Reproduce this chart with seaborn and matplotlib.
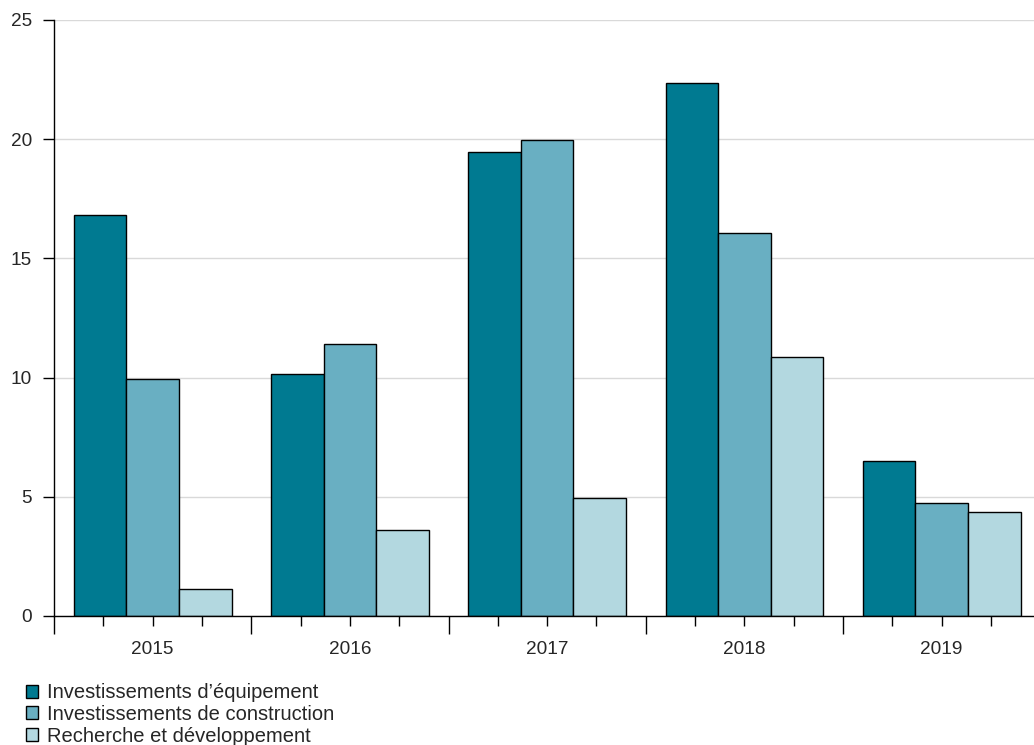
import numpy as np
import pandas as pd
import matplotlib
matplotlib.use("Agg")
import matplotlib.pyplot as plt
import seaborn as sns

# Values per year (billions)
years = ["2015", "2016", "2017", "2018", "2019"]
series = ["Investissements d\u2019équipement",
          "Investissements de construction",
          "Recherche et développement"]
equipement = [16.82, 10.15, 19.48, 22.34, 6.50]
construction = [9.94, 11.41, 19.97, 16.07, 4.76]
recherche = [1.15, 3.61, 4.97, 10.88, 4.36]
colors = ["#007A91", "#69AFC2", "#B3D8E0"]

df = pd.DataFrame({
    "annee": years * 3,
    "serie": [series[0]] * 5 + [series[1]] * 5 + [series[2]] * 5,
    "valeur": equipement + construction + recherche,
})

sns.set_style("white")
plt.rcParams["font.family"] = ["Liberation Sans", "DejaVu Sans"]

fig = plt.figure(figsize=(10.34, 7.45), dpi=100)
ax = fig.add_axes([54 / 1034, 129 / 745, 1 - 54 / 1034, (616 - 20) / 745])

sns.barplot(data=df, x="annee", y="valeur", hue="serie", hue_order=series,
            palette=colors, edgecolor="black", linewidth=1.0, width=0.8,
            saturation=1, ax=ax, legend=True)

ax.set_yticks([0, 5, 10, 15, 20, 25])
ax.yaxis.grid(True, color="#d9d9d9", linewidth=1)
ax.set_axisbelow(True)
ax.set_xlabel("")
ax.set_ylabel("")

for side in ["top", "right"]:
    ax.spines[side].set_visible(False)
for side in ["left", "bottom"]:
    ax.spines[side].set_color("black")
    ax.spines[side].set_linewidth(1)

# Major ticks at group boundaries, minor ticks at quarters with year labels
n = len(years)
major = np.arange(-0.5, n, 1.0)
ax.set_xticks(major)
ax.set_xticklabels([""] * len(major))
minor = []
minor_labels = []
for i, y in enumerate(years):
    for off, lab in [(-0.25, ""), (0.0, y), (0.25, "")]:
        minor.append(i + off)
        minor_labels.append(lab)
ax.set_xticks(minor, minor=True)
ax.set_xticklabels(minor_labels, minor=True)
ax.tick_params(axis="x", which="major", direction="out", length=13, width=1,
               color="black", bottom=True)
ax.tick_params(axis="x", which="minor", direction="out", length=7.5, width=1,
               color="black", bottom=True, labelsize=13.7, pad=10.5)
ax.tick_params(axis="y", direction="out", length=8, width=1, color="black",
               left=True, labelsize=13.7, pad=8)

# Limits last, so the tick setup does not widen them
ax.set_ylim(0, 25)
ax.set_xlim(-0.5, 4.468)

handles, labels = ax.get_legend_handles_labels()
ax.get_legend().remove()
fig.legend(handles, labels, loc="lower left", bbox_to_anchor=(0.013, -0.017),
           frameon=False, fontsize=14.5, handlelength=0.62, handleheight=0.62,
           handletextpad=0.45, labelspacing=0.13, borderaxespad=0.2)

fig.savefig("out.png", dpi=100)
